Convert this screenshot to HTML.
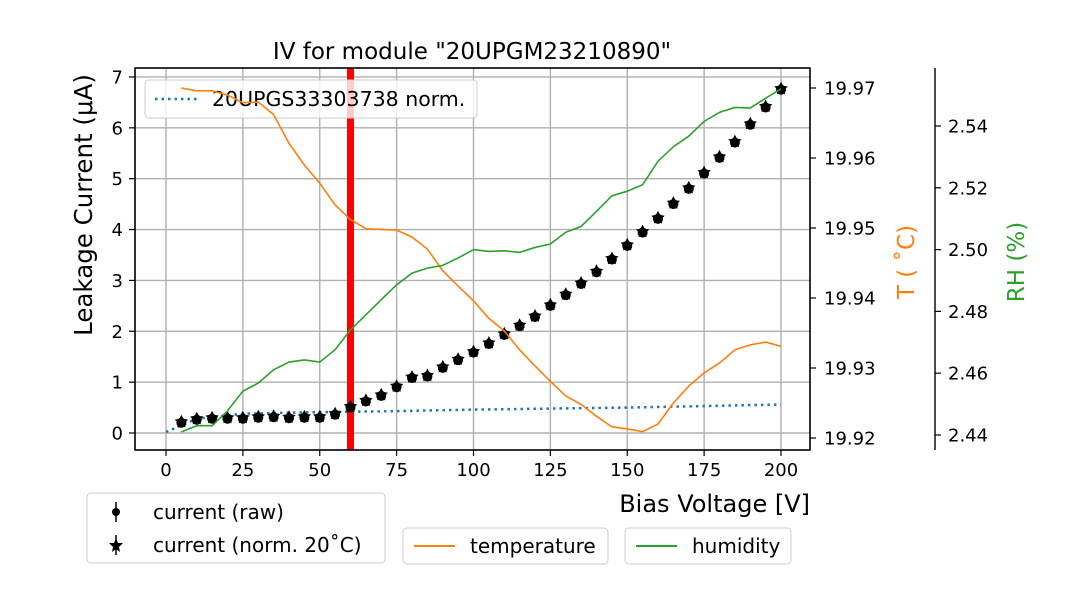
<!DOCTYPE html>
<html><head><meta charset="utf-8"><style>
body{margin:0;background:#fff}
svg{font-family:"DejaVu Sans","Liberation Sans",sans-serif}
</style></head><body>
<svg id="chart" width="1080" height="600" viewBox="0 0 1080 600" xmlns="http://www.w3.org/2000/svg">
<text x="472" y="59" font-size="23" text-anchor="middle">IV for module "20UPGM23210890"</text>
<g id="grid"></g>
<g id="marks"></g>
<g>
<rect x="145" y="80" width="332" height="38" rx="4" fill="#fff" fill-opacity="0.8" stroke="#ccc"/>
<line x1="155" y1="99" x2="200" y2="99" stroke="#1f77b4" stroke-width="2.5" stroke-dasharray="2.5,4"/>
<text x="212" y="106" font-size="20.5">20UPGS33303738 norm.</text>
</g>
<g id="marks2"></g>
<g id="axes"></g>
<rect x="135" y="68" width="675" height="382" fill="none" stroke="#000" stroke-width="1.6"/>
<text x="810" y="512" font-size="24" text-anchor="end">Bias Voltage [V]</text>
<text transform="translate(92,205) rotate(-90)" font-size="24.5" text-anchor="middle">Leakage Current (μA)</text>
<text transform="translate(914,262) rotate(-90)" font-size="23" text-anchor="middle" fill="#ff7f0e">T ( ˚C)</text>
<text transform="translate(1024,262) rotate(-90)" font-size="23" text-anchor="middle" fill="#2ca02c">RH (%)</text>
<g>
<rect x="87" y="493" width="298" height="70" rx="4" fill="#fff" stroke="#ccc"/>
<line x1="116" y1="502" x2="116" y2="522" stroke="#000" stroke-width="1.5"/><circle cx="116" cy="512" r="4"/>
<text x="153" y="519" font-size="20">current (raw)</text>
<line x1="116" y1="535" x2="116" y2="555" stroke="#000" stroke-width="1.5"/><polygon points="116,538 118,543 123,543 119,547 120,552 116,549 112,552 113,547 109,543 114,543"/>
<text x="153" y="552" font-size="20">current (norm. 20˚C)</text>
</g>
<g>
<rect x="403" y="528" width="205" height="36" rx="4" fill="#fff" stroke="#ccc"/>
<line x1="414" y1="546" x2="455" y2="546" stroke="#ff7f0e" stroke-width="2"/>
<text x="470" y="553" font-size="20">temperature</text>
</g>
<g>
<rect x="625" y="528" width="166" height="36" rx="4" fill="#fff" stroke="#ccc"/>
<line x1="636" y1="546" x2="677" y2="546" stroke="#2ca02c" stroke-width="2"/>
<text x="692" y="553" font-size="20">humidity</text>
</g>
</svg>
<script>
const voltages=[5,10,15,20,25,30,35,40,45,50,55,60,65,70,75,80,85,90,95,100,105,110,115,120,125,130,135,140,145,150,155,160,165,170,175,180,185,190,195,200];
const currentNorm=[0.22,0.28,0.3,0.3,0.3,0.32,0.33,0.31,0.32,0.32,0.38,0.52,0.64,0.75,0.92,1.1,1.13,1.3,1.45,1.6,1.77,1.95,2.12,2.3,2.52,2.73,2.95,3.18,3.43,3.7,3.96,4.23,4.52,4.82,5.12,5.43,5.73,6.08,6.42,6.77];
const refVoltages=[0,5,10,25,50,75,100,125,150,175,200];
const refCurrent=[0.02,0.15,0.28,0.38,0.41,0.43,0.46,0.48,0.5,0.53,0.56];
const temperature=[19.970,19.9696,19.9696,19.969,19.9679,19.968,19.9662,19.9621,19.959,19.9564,19.9533,19.9512,19.9499,19.9498,19.9497,19.9487,19.947,19.9439,19.9417,19.9396,19.9371,19.9353,19.9326,19.9303,19.9281,19.926,19.9248,19.9231,19.9216,19.9213,19.9209,19.922,19.925,19.9274,19.9293,19.9307,19.9326,19.9333,19.9337,19.9331];
const humidity=[2.441,2.443,2.443,2.4478,2.4542,2.4568,2.4611,2.4636,2.4643,2.4636,2.4676,2.474,2.4789,2.4838,2.4886,2.4924,2.494,2.4949,2.4973,2.50,2.4994,2.4996,2.4991,2.5007,2.5018,2.5056,2.5075,2.5124,2.5174,2.5189,2.521,2.5286,2.5333,2.5367,2.5415,2.5444,2.546,2.5458,2.549,2.552];
const xTicks=[0,25,50,75,100,125,150,175,200];
const yTicks=[0,1,2,3,4,5,6,7];
const tTicks=[19.92,19.93,19.94,19.95,19.96,19.97];
const rhTicks=[2.44,2.46,2.48,2.50,2.52,2.54];
const depVoltage=[60];

const NS="http://www.w3.org/2000/svg";
const X=v=>166+v*3.075;
const Y=c=>433-c*50.86;
const YT=t=>438-(t-19.92)*7000;
const YR=r=>435-(r-2.44)*3090;
function mk(tag,attrs,parent){const e=document.createElementNS(NS,tag);for(const k in attrs)e.setAttribute(k,attrs[k]);parent.appendChild(e);return e;}
const grid=document.getElementById('grid'),marks=document.getElementById('marks'),marks2=document.getElementById('marks2'),axes=document.getElementById('axes');
xTicks.forEach(v=>{
  const l=mk('line',{x1:X(v),x2:X(v),y1:68,y2:450,stroke:'#b0b0b0','stroke-width':1.4},grid);
  
  
  mk('line',{x1:X(v),x2:X(v),y1:450,y2:456,stroke:'#000','stroke-width':1.2},axes);
  const t=mk('text',{x:X(v),y:476,'font-size':18,'text-anchor':'middle'},axes);t.textContent=v;
  
  
});
yTicks.forEach(v=>{
  const l=mk('line',{x1:135,x2:810,y1:Y(v),y2:Y(v),stroke:'#b0b0b0','stroke-width':1.4},grid);
  
  
  mk('line',{x1:129,x2:135,y1:Y(v),y2:Y(v),stroke:'#000','stroke-width':1.2},axes);
  const t=mk('text',{x:123,y:Y(v)+6.5,'font-size':18,'text-anchor':'end'},axes);t.textContent=v;
  
  
});
tTicks.forEach(v=>{
  mk('line',{x1:810,x2:816,y1:YT(v),y2:YT(v),stroke:'#000','stroke-width':1.2},axes);
  const t=mk('text',{x:824,y:YT(v)+6.5,'font-size':18},axes);t.textContent=v.toFixed(2);
  
  
});
const sp=mk('line',{x1:935,x2:935,y1:68,y2:450,stroke:'#000','stroke-width':1.4},axes);


rhTicks.forEach(v=>{
  mk('line',{x1:935,x2:941,y1:YR(v),y2:YR(v),stroke:'#000','stroke-width':1.2},axes);
  const t=mk('text',{x:948,y:YR(v)+6.5,'font-size':18},axes);t.textContent=v.toFixed(2);
  
  
});
const ref=mk('polyline',{points:refVoltages.map((v,i)=>X(v)+','+Y(refCurrent[i])).join(' '),fill:'none',stroke:'#1f77b4','stroke-width':2.5,'stroke-dasharray':'2.5,4'},marks);


depVoltage.forEach(v=>{
  const r=mk('rect',{x:X(v)-3.5,y:68,width:7,height:382,fill:'#ff0000'},marks);
  
  
});
voltages.forEach((v,i)=>{
  const cx=X(v),cy=Y(currentNorm[i]);
  const c=mk('circle',{cx:cx,cy:cy+1,r:5,fill:'#000'},marks);
  
  
  const pts=[];
  for(let k=0;k<10;k++){const a=-Math.PI/2+k*Math.PI/5;const r=k%2?3.6:7;pts.push((cx+r*Math.cos(a)).toFixed(1)+','+(cy+r*Math.sin(a)).toFixed(1));}
  const s=mk('polygon',{points:pts.join(' '),fill:'#000'},marks);
  
  
});
const tl=mk('polyline',{points:voltages.map((v,i)=>X(v)+','+YT(temperature[i])).join(' '),fill:'none',stroke:'#ff7f0e','stroke-width':1.6},marks2);


const hl=mk('polyline',{points:voltages.map((v,i)=>X(v)+','+YR(humidity[i])).join(' '),fill:'none',stroke:'#2ca02c','stroke-width':1.6},marks2);


</script>
</body></html>
